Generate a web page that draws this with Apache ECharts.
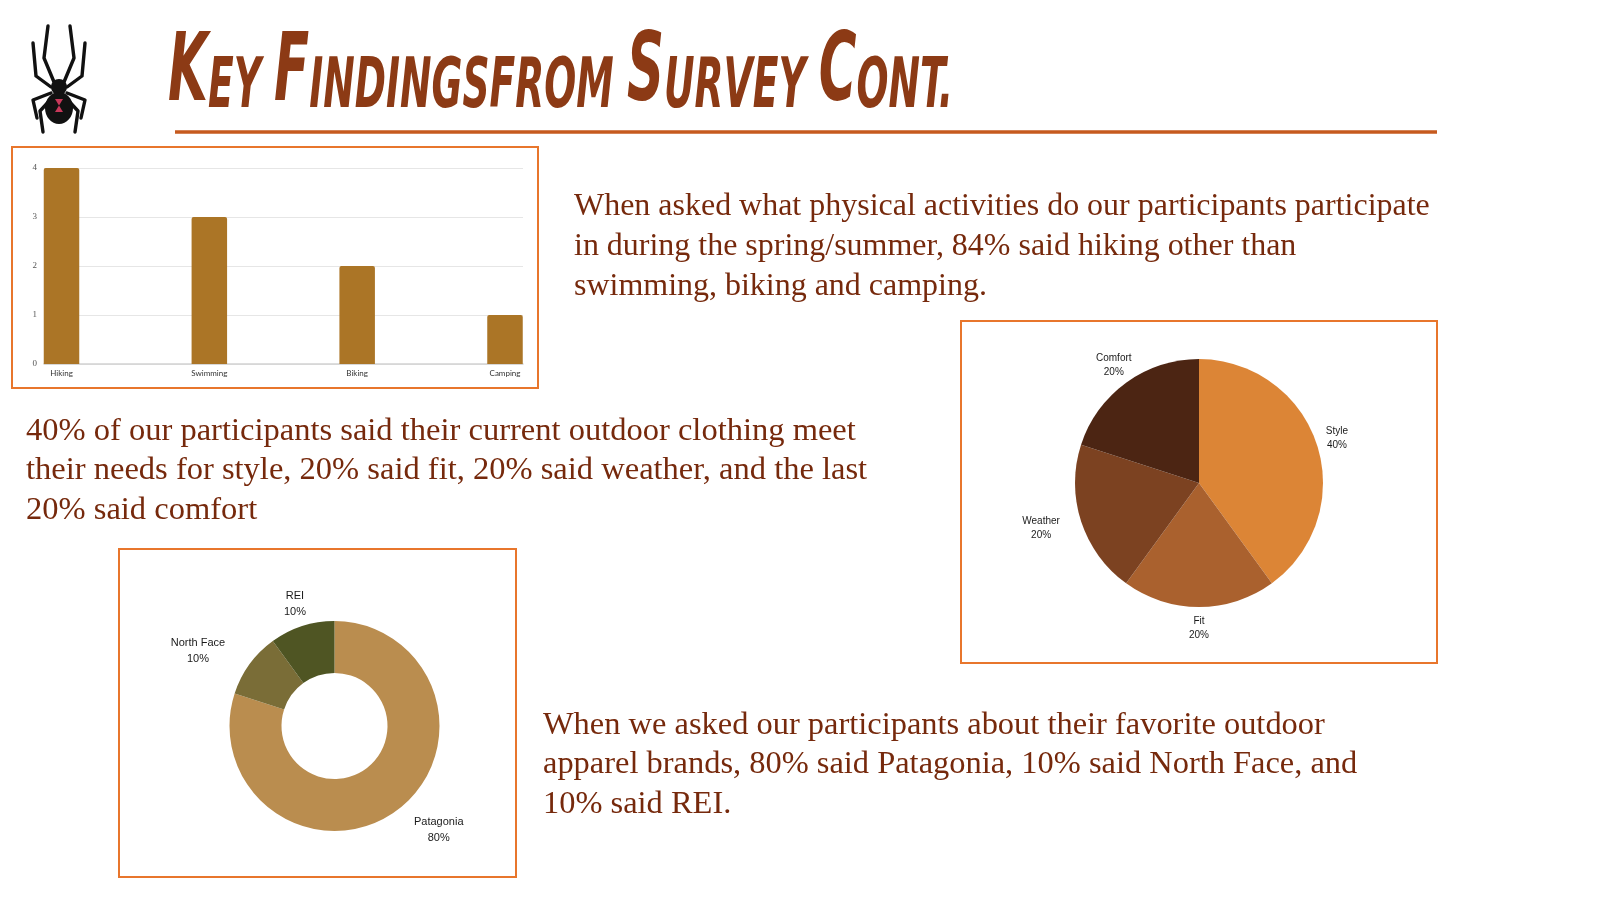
<!DOCTYPE html>
<html>
<head>
<meta charset="utf-8">
<script src="https://cdn.jsdelivr.net/npm/echarts@6/dist/echarts.min.js"></script>
<style>
html,body{margin:0;padding:0;background:#ffffff;}
#c{width:1599px;height:899px;}
</style>
</head>
<body>
<div id="c"></div>
<script>
// ---------- data ----------
const titleParts = [['K','big'],['EY ','small'],['F','big'],['INDINGS','small'],['FROM ','small'],['S','big'],['URVEY ','small'],['C','big'],['ONT.','small']];

const activityCategories = ['Hiking', 'Swimming', 'Biking', 'Camping'];
const activityValues = [4, 3, 2, 1];

const needsCategories = ['Style', 'Fit', 'Weather', 'Comfort'];
const needsValues = [40, 20, 20, 20];

const brandCategories = ['Patagonia', 'North Face', 'REI'];
const brandValues = [80, 10, 10];

const paragraph1 = [
  'When asked what physical activities do our participants participate',
  'in during the spring/summer, 84% said hiking other than',
  'swimming, biking and camping.'
];
const paragraph2 = [
  '40% of our participants said their current outdoor clothing meet',
  'their needs for style, 20% said fit, 20% said weather, and the last',
  '20% said comfort'
];
const paragraph3 = [
  'When we asked our participants about their favorite outdoor',
  'apparel brands, 80% said Patagonia, 10% said North Face, and',
  '10% said REI.'
];

// ---------- styles ----------
const needsColors = ['#DC8536', '#AA612E', '#7C4221', '#4C2513'];
const brandColors = ['#BA8D4F', '#7A6D37', '#4F5523'];
const needsLabelDx = [0, 0, -20, 0];
const brandLabelDx = [29, -33, 0];
const barColor = '#AB7526';
const boxColor = '#E8762C';
const textColor = '#76290C';
const titleColor = '#8C3A15';
const serif = '"Liberation Serif", "DejaVu Serif", serif';
const sans = '"Liberation Sans", Arial, sans-serif';
const titleFamily = '"DejaVu Sans Condensed", "DejaVu Sans", sans-serif';

const mctx = document.createElement('canvas').getContext('2d');
function textWidth(font, s) { mctx.font = font; return mctx.measureText(s).width; }
function fitSize(line, targetW) { return 30 * targetW / textWidth('30px ' + serif, line); }

// title
const bigFont = 'italic bold 82px ' + titleFamily;
const smallFont = 'italic bold 60px ' + titleFamily;
let titleW = 0;
titleParts.forEach(p => { titleW += textWidth(p[1] === 'big' ? bigFont : smallFont, p[0]); });
const titleScaleX = 785 / titleW;
const titleText = titleParts.map(p => '{' + (p[1] === 'big' ? 'b' : 's') + '|' + p[0] + '}').join('');

function paragraphElements(lines, x, y0, targetW) {
  const fs = fitSize(lines[0], targetW);
  return lines.map((t, i) => ({
    type: 'text', x: x, y: y0 + i * 39.7, silent: true,
    style: { text: t, fontSize: fs, fontFamily: serif, fill: textColor, align: 'left', verticalAlign: 'middle' }
  }));
}

// spider legs
const legsLeft = [
  [[54,82],[44,58],[48,26]],
  [[51,87],[36,76],[33,43]],
  [[51,93],[33,100],[37,118]],
  [[52,98],[40,111],[43,132]]
];
const spiderEls = [];
legsLeft.forEach(pts => {
  spiderEls.push({ type: 'polyline', shape: { points: pts }, style: { stroke: '#111', lineWidth: 3.4, fill: null, lineCap: 'round', lineJoin: 'round' } });
  spiderEls.push({ type: 'polyline', shape: { points: pts.map(p => [118 - p[0], p[1]]) }, style: { stroke: '#111', lineWidth: 3.4, fill: null, lineCap: 'round', lineJoin: 'round' } });
});
spiderEls.push({ type: 'circle', shape: { cx: 59, cy: 87, r: 8 }, style: { fill: '#111' } });
spiderEls.push({ type: 'ellipse', shape: { cx: 59, cy: 108, rx: 14, ry: 16 }, style: { fill: '#111' } });
spiderEls.push({ type: 'polygon', shape: { points: [[55,99],[63,99],[59,105.5]] }, style: { fill: '#C8385A' } });
spiderEls.push({ type: 'polygon', shape: { points: [[55,112],[63,112],[59,105.5]] }, style: { fill: '#C8385A' } });

const graphics = [].concat(
  spiderEls,
  [{
    type: 'text', x: 168, y: 76, scaleX: titleScaleX, scaleY: 1.15, silent: true,
    style: {
      text: titleText, fill: titleColor, align: 'left', verticalAlign: 'middle',
      rich: {
        b: { fontSize: 82, fontFamily: titleFamily, fontWeight: 'bold', fontStyle: 'italic', fill: titleColor, verticalAlign: 'bottom' },
        s: { fontSize: 60, fontFamily: titleFamily, fontWeight: 'bold', fontStyle: 'italic', fill: titleColor, verticalAlign: 'bottom' }
      }
    }
  },
  { type: 'line', shape: { x1: 175, y1: 132, x2: 1437, y2: 132 }, style: { stroke: '#C65A1E', lineWidth: 3.5 } },
  { type: 'rect', shape: { x: 12, y: 147, width: 526, height: 241 }, style: { fill: null, stroke: boxColor, lineWidth: 2 } },
  { type: 'rect', shape: { x: 961, y: 321, width: 476, height: 342 }, style: { fill: null, stroke: boxColor, lineWidth: 2 } },
  { type: 'rect', shape: { x: 119, y: 549, width: 397, height: 328 }, style: { fill: null, stroke: boxColor, lineWidth: 2 } }
  ],
  paragraphElements(paragraph1, 574, 207, 856),
  paragraphElements(paragraph2, 26, 431, 830),
  paragraphElements(paragraph3, 543, 725, 782)
);

function pieLabel(p) { return '{a|' + p.name + '}\n{a|' + p.value + '%}'; }

const chart = echarts.init(document.getElementById('c'));
chart.setOption({
  backgroundColor: '#ffffff',
  animation: false,
  graphic: { elements: graphics },
  grid: [
    { left: 44, top: 168, width: 479, height: 196 },
    { left: 61.5, top: 168, width: 443.5, height: 196 }
  ],
  xAxis: [
    { gridIndex: 0, type: 'category', data: activityCategories,
      axisLine: { show: true, lineStyle: { color: '#d2d2d2', width: 1.5 } },
      axisTick: { show: false }, axisLabel: { show: false }, splitLine: { show: false } },
    { gridIndex: 1, type: 'category', data: activityCategories, boundaryGap: false,
      axisLine: { show: false }, axisTick: { show: false },
      axisLabel: { fontSize: 8, color: '#333', margin: 5, fontFamily: 'Lato' } }
  ],
  yAxis: [
    { gridIndex: 0, type: 'value', min: 0, max: 4, interval: 1,
      axisLine: { show: false }, axisTick: { show: false },
      axisLabel: { fontSize: 9, color: '#555', margin: 7, fontFamily: serif },
      splitLine: { lineStyle: { color: '#e6e6e6', width: 1 } } },
    { gridIndex: 1, type: 'value', min: 0, max: 4, interval: 1, show: false }
  ],
  series: [
    { type: 'bar', xAxisIndex: 1, yAxisIndex: 1, data: activityValues, barWidth: 35.5,
      itemStyle: { color: barColor, borderRadius: [2, 2, 0, 0] }, silent: true },
    { type: 'pie', center: [1199, 483], radius: 124, startAngle: 90, clockwise: true,
      avoidLabelOverlap: false, silent: true,
      data: needsCategories.map((n, i) => ({ name: n, value: needsValues[i], itemStyle: { color: needsColors[i] } })),
      label: { show: true, position: 'outside', formatter: pieLabel, distanceToLabelLine: 0,
        rich: { a: { fontSize: 10, lineHeight: 14, align: 'center', color: '#1a1a1a', fontFamily: sans } } },
      labelLine: { show: false, length: 21, length2: 0 },
      labelLayout: p => ({ align: 'center', verticalAlign: 'middle', dx: needsLabelDx[p.dataIndex] })
    },
    { type: 'pie', center: [334.5, 726], radius: [53, 105], startAngle: 90, clockwise: true,
      avoidLabelOverlap: false, silent: true,
      data: brandCategories.map((n, i) => ({ name: n, value: brandValues[i], itemStyle: { color: brandColors[i] } })),
      label: { show: true, position: 'outside', formatter: pieLabel, distanceToLabelLine: 0,
        rich: { a: { fontSize: 11, lineHeight: 16, align: 'center', color: '#1a1a1a', fontFamily: sans } } },
      labelLine: { show: false, length: 23, length2: 0 },
      labelLayout: p => ({ align: 'center', verticalAlign: 'middle', dx: brandLabelDx[p.dataIndex] })
    }
  ]
});
</script>
</body>
</html>
